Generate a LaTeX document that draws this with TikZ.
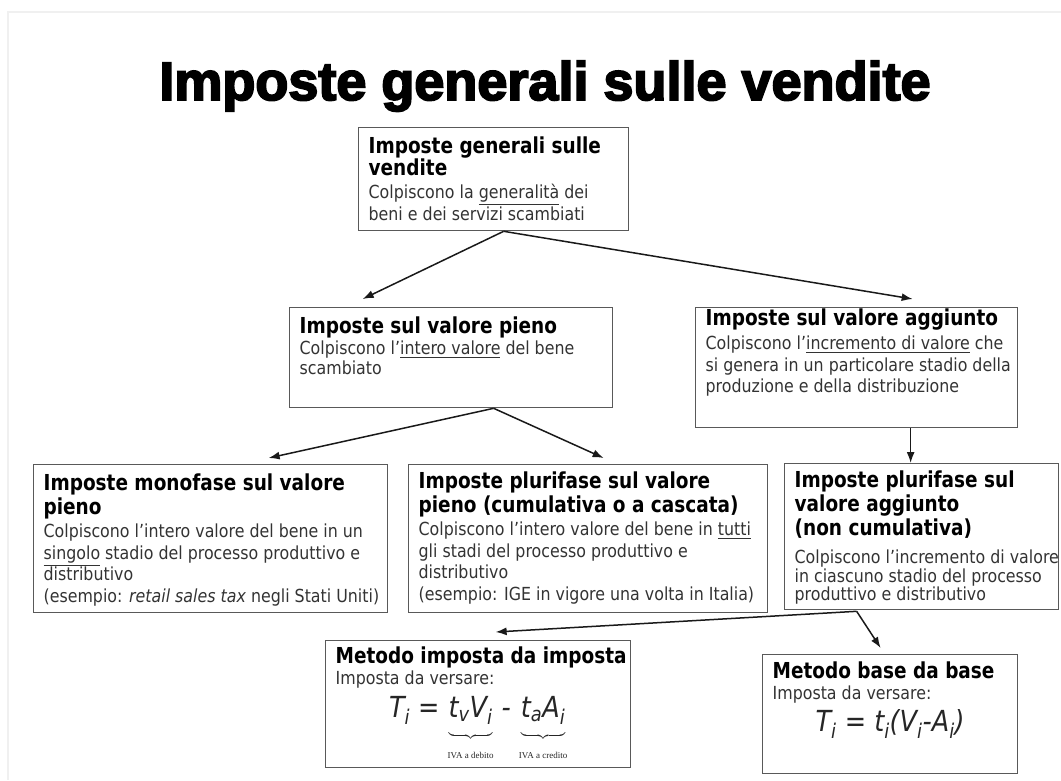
\documentclass[tikz,border=0pt]{standalone}
\usepackage{fontspec}
\usepackage{amsmath}
\usepackage{xcolor}
\usepackage{tikz}
\usetikzlibrary{arrows.meta}
\setmainfont{DejaVu Sans}[FakeStretch=0.88, BoldFeatures={FakeStretch=0.84}]
\newfontfamily\titlefont{Liberation Sans}[FakeBold=3.5]
\newfontfamily\notefont{Liberation Serif}

\definecolor{testo}{gray}{0.2}
\definecolor{bordo}{gray}{0.35}

\newlength{\boxw}
\newcommand{\hd}[1][24]{\fontsize{22}{#1}\selectfont\bfseries\color{black}}
\newcommand{\bd}[1][21.5]{\fontsize{18}{#1}\selectfont\mdseries\color{testo}}
\newcommand{\cella}[3]{\setlength{\boxw}{#1}\makebox[#1][l]{\begin{minipage}[t][#2][t]{420pt}\raggedright #3\end{minipage}}}
\newcommand{\sub}[1]{\textsubscript{#1}}
\newcommand{\nota}[1]{\hbox{\notefont\upshape\fontsize{9}{10}\selectfont\rule{0pt}{17pt}#1}}
\newcommand{\formula}[2][8pt]{\hbox{\fontsize{29}{32}\selectfont\itshape #2\rule[-#1]{0pt}{1pt}}}
\newcommand{\centro}[1]{\noindent\makebox[\boxw]{#1}\par}

\begin{document}
\begin{tikzpicture}[x=1pt, y=-1pt, box/.style={rectangle, draw=bordo, line width=1.3pt, inner xsep=10pt, inner ysep=4pt, anchor=north west}, line/.style={draw, -{Latex[length=11pt,width=8pt]}, line width=1.5pt, black!90}]
        \useasboundingbox (0,0) rectangle (1061,780);
        \draw [black!6, line width=1.5pt] (8,780) -- (8,12) -- (1061,12);

        % Title
        \node [anchor=base] (titolo) at (545,100) {\titlefont\bfseries\fontsize{54}{60}\selectfont Imposte generali sulle vendite};

        % Nodes
        \node [box] (generali) at (358,127) {\cella{250pt}{95pt}{\vspace*{5pt}{\hd[22] Imposte generali sulle\\ vendite\par}\vspace{6pt}{\bd[17] Colpiscono la \underline{generalità} dei\\ beni e dei servizi scambiati\par}}};
        \node [box] (pieno) at (289,307) {\cella{303pt}{92pt}{\vspace*{5pt}{\hd Imposte sul valore pieno\par}\vspace{1pt}{\bd[20] Colpiscono l’\underline{intero valore} del bene\\ scambiato\par}}};
        \node [box] (aggiunto) at (695,307) {\cella{302pt}{112pt}{\vspace*{-3pt}{\hd Imposte sul valore aggiunto\par}\vspace{3pt}{\bd Colpiscono l’\underline{incremento di valore} che\\ si genera in un particolare stadio della\\ produzione e della distribuzione\par}}};
        \node [box] (monofase) at (33,464) {\cella{334pt}{140pt}{\vspace*{5pt}{\hd Imposte monofase sul valore\\ pieno\par}\vspace{2pt}{\bd Colpiscono l’intero valore del bene in un\\ \underline{singolo} stadio del processo produttivo e\\ distributivo\\ (esempio: \textit{retail sales tax} negli Stati Uniti)\par}}};
        \node [box] (cascata) at (408,464) {\cella{339pt}{140pt}{\vspace*{3pt}{\hd Imposte plurifase sul valore\\ pieno (cumulativa o a cascata)\par}\vspace{2pt}{\bd Colpiscono l’intero valore del bene in \underline{tutti}\\ gli stadi del processo produttivo e\\ distributivo\\ (esempio: IGE in vigore una volta in Italia)\par}}};
        \node [box] (plurifase) at (784,463) {\cella{254pt}{138pt}{\vspace*{3pt}{\hd Imposte plurifase sul\\ valore aggiunto\\ (non cumulativa)\par}\vspace{10pt}{\bd[18.5] Colpiscono l’incremento di valore\\ in ciascuno stadio del processo\\ produttivo e distributivo\par}}};
        \node [box] (imposta) at (325,640) {\cella{285pt}{119pt}{\vspace*{2pt}{\hd Metodo imposta da imposta\par}{\bd Imposta da versare:\par}\vspace{7pt}{\color{black!85}\centro{\formula{T\sub{i} = }{\fontsize{12}{14}\selectfont$\underbrace{\formula[14pt]{t\sub{v}V\sub{i}}}_{\nota{IVA a debito}}$}\formula{ - }{\fontsize{12}{14}\selectfont$\underbrace{\formula[14pt]{t\sub{a}A\sub{i}}}_{\nota{IVA a credito}}$}}}}};
        \node [box] (base) at (762,654) {\cella{235pt}{111pt}{\vspace*{3pt}{\hd Metodo base da base\par}{\bd Imposta da versare:\par}\vspace{5pt}{\color{black!85}\centro{\formula{T\sub{i} = t\sub{i}(V\sub{i}-A\sub{i})}}}}};

        % Arrows
        \path [line] ([xshift=10pt]generali.south) -- ([xshift=-88.5pt,yshift=8pt]pieno.north);
        \path [line] ([xshift=10pt]generali.south) -- ([xshift=56pt,yshift=8pt]aggiunto.north);
        \path [line] ([xshift=42.5pt]pieno.south) -- ([xshift=58pt,yshift=6pt]monofase.north);
        \path [line] ([xshift=42.5pt]pieno.south) -- ([xshift=15.5pt,yshift=6pt]cascata.north);
        \path [line] ([xshift=54pt]aggiunto.south) -- ([xshift=-11pt]plurifase.north);
        \path [line] ([xshift=-65pt,yshift=-1pt]plurifase.south) -- ([xshift=17.5pt,yshift=8pt]imposta.north);
        \path [line] ([xshift=-65pt,yshift=-1pt]plurifase.south) -- ([xshift=-9.5pt,yshift=6pt]base.north);
    \end{tikzpicture}
\end{document}
